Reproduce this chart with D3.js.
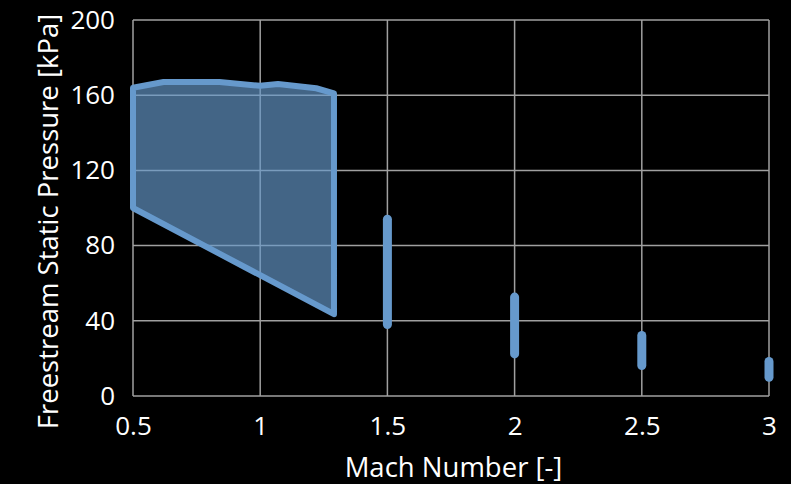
<!DOCTYPE html>
<html>
<head>
<meta charset="utf-8">
<script src="https://cdn.jsdelivr.net/npm/d3@7/dist/d3.min.js"></script>
<style>
  html, body { margin: 0; padding: 0; background: #000; }
  svg { display: block; }
  text { font-family: "Open Sans", "Noto Sans", sans-serif; fill: #fff; }
</style>
</head>
<body>
<svg id="chart" width="791" height="484"></svg>
<script>
// Subsonic/transonic envelope: upper boundary (Mach, kPa), left to right
const envelopeTopMach     = [0.5, 0.62, 0.84, 1.0, 1.07, 1.22, 1.29];
const envelopeTopPressure = [164, 167, 167, 165, 166, 163.7, 161];
// Lower boundary, right to left
const envelopeBottomMach     = [1.29, 0.5];
const envelopeBottomPressure = [43.5, 100];

// Supersonic test points: pressure ranges at discrete Mach numbers
const barMach = [1.5, 2, 2.5, 3];
const barMin  = [38, 22.4, 16.2, 10];
const barMax  = [94, 52.6, 32.2, 18.4];

const xTicks = [0.5, 1, 1.5, 2, 2.5, 3];
const yTicks = [0, 40, 80, 120, 160, 200];

const svg = d3.select("#chart");
const margin = { left: 133, right: 22, top: 20, bottom: 88 };
const W = 791, H = 484;

const x = d3.scaleLinear().domain([0.5, 3]).range([margin.left, W - margin.right]);
const y = d3.scaleLinear().domain([0, 200]).range([H - margin.bottom, margin.top]);

const gridColor = "#a0a0a0";

// Gridlines
const grid = svg.append("g");
grid.selectAll("line.v").data(xTicks).join("line")
  .attr("x1", d => x(d)).attr("x2", d => x(d))
  .attr("y1", y(0)).attr("y2", y(200))
  .attr("stroke", gridColor).attr("stroke-width", 1.5);
grid.selectAll("line.h").data(yTicks).join("line")
  .attr("x1", x(0.5)).attr("x2", x(3))
  .attr("y1", d => y(d)).attr("y2", d => y(d))
  .attr("stroke", gridColor).attr("stroke-width", 1.5);

// Axes (labels only)
const xAxis = d3.axisBottom(x).tickValues(xTicks).tickSize(0).tickPadding(21)
  .tickFormat(d => String(d));
const gx = svg.append("g").attr("transform", `translate(0,${y(0)})`).call(xAxis);
gx.select(".domain").remove();
gx.selectAll("text").attr("font-size", 26).attr("fill", "#fff")
  .attr("font-family", "'Open Sans', sans-serif");

const yAxis = d3.axisLeft(y).tickValues(yTicks).tickSize(0).tickPadding(18);
const gy = svg.append("g").attr("transform", `translate(${x(0.5)},0)`).call(yAxis);
gy.select(".domain").remove();
gy.selectAll("text").attr("font-size", 26).attr("fill", "#fff")
  .attr("font-family", "'Open Sans', sans-serif");

// Envelope polygon
const pts = envelopeTopMach.map((m, i) => [m, envelopeTopPressure[i]])
  .concat(envelopeBottomMach.map((m, i) => [m, envelopeBottomPressure[i]]));
const line = d3.line().x(d => x(d[0])).y(d => y(d[1])).curve(d3.curveLinearClosed);
svg.append("path")
  .attr("d", line(pts))
  .attr("fill", "#6699cc").attr("fill-opacity", 0.66)
  .attr("stroke", "#6699cc").attr("stroke-width", 6)
  .attr("stroke-linejoin", "round");

// Vertical range bars
svg.append("g").selectAll("line").data(barMach).join("line")
  .attr("x1", d => x(d)).attr("x2", d => x(d))
  .attr("y1", (d, i) => y(barMin[i])).attr("y2", (d, i) => y(barMax[i]))
  .attr("stroke", "#6699cc").attr("stroke-width", 9)
  .attr("stroke-linecap", "round");

// Axis titles
svg.append("text")
  .attr("x", 453.5).attr("y", 476.5)
  .attr("text-anchor", "middle").attr("font-size", 27.5)
  .text("Mach Number [-]");
svg.append("text")
  .attr("transform", `translate(58,221.5) rotate(-90)`)
  .attr("text-anchor", "middle").attr("font-size", 27.5)
  .text("Freestream Static Pressure [kPa]");
</script>
</body>
</html>
